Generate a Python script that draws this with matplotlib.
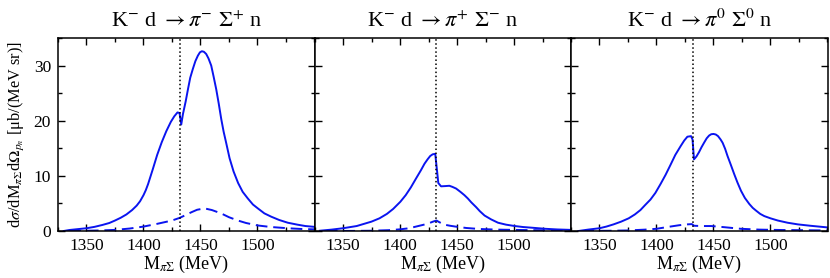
import matplotlib
matplotlib.use('Agg')
import matplotlib.pyplot as plt
from matplotlib.ticker import MultipleLocator

plt.rcParams['font.family'] = ['Liberation Serif', 'DejaVu Serif']
plt.rcParams['mathtext.fontset'] = 'stix'

# values (MeV, mub/(MeV sr))
m1_solid = [1330, 1335, 1342, 1350, 1357, 1364, 1370, 1375, 1380, 1385, 1390, 1394, 1397, 1400,
            1402, 1404, 1406, 1408, 1412, 1416, 1420, 1424, 1427, 1429.8, 1431.6, 1433.1, 1434.6,
            1437, 1439, 1441, 1443.3, 1445.5, 1447.7, 1449.5, 1451.2, 1453, 1455, 1457, 1459.4,
            1461.5, 1463.8, 1466, 1468.2, 1470.3, 1472.5, 1475.5, 1479, 1483, 1487, 1491.5, 1496,
            1500.3, 1506, 1512, 1519, 1526.6, 1535, 1542, 1550]
v1_solid = [0.0, 0.18, 0.33, 0.5, 0.75, 1.1, 1.45, 1.9, 2.4, 3.0, 3.8, 4.6, 5.4, 6.5,
            7.4, 8.5, 9.8, 11.1, 13.8, 16.1, 18.1, 19.8, 20.8, 21.5, 21.4, 19.3, 21.2,
            23.5, 25.7, 27.8, 29.4, 30.8, 31.8, 32.4, 32.6, 32.5, 32.1, 31.3, 30.0,
            28.0, 25.7, 23.1, 20.3, 18.0, 16.0, 13.2, 10.8, 8.7, 7.1, 5.9, 4.8,
            4.1, 3.2, 2.6, 2.0, 1.5, 1.15, 0.9, 0.75]
m1_dash = [1335, 1350, 1362, 1375, 1388, 1400, 1412, 1425, 1432, 1437, 1442, 1447, 1453.5,
           1460, 1468, 1475, 1482.8, 1490, 1500.3, 1512, 1526.6, 1540, 1550]
v1_dash = [0.0, 0.05, 0.1, 0.2, 0.45, 0.8, 1.3, 1.9, 2.4, 2.9, 3.4, 3.85, 4.1,
           3.8, 3.2, 2.5, 1.9, 1.45, 1.0, 0.72, 0.5, 0.35, 0.3]

m2_solid = [1329.7, 1340, 1350, 1362, 1375, 1382, 1388.5, 1394, 1400.3, 1405, 1409.5, 1414,
            1418.3, 1421.5, 1424.2, 1426.5, 1428.6, 1430.9, 1432.4, 1433.6, 1436, 1440, 1443.3,
            1446, 1449.2, 1453, 1456.5, 1459.5, 1462.5, 1466.9, 1470, 1474.2, 1480, 1486, 1493,
            1500.7, 1508, 1515.5, 1527.3, 1538, 1550]
v2_solid = [0.05, 0.25, 0.5, 0.9, 1.7, 2.3, 3.1, 4.0, 5.3, 6.5, 7.9, 9.5,
            11.0, 12.2, 13.0, 13.6, 13.9, 14.0, 11.1, 8.7, 8.1, 8.15, 8.2,
            8.0, 7.7, 7.1, 6.5, 5.9, 5.2, 4.3, 3.6, 2.8, 2.1, 1.5, 1.15,
            0.9, 0.72, 0.6, 0.4, 0.28, 0.2]
m2_dash = [1335, 1360, 1375, 1390, 1400, 1406, 1412, 1418, 1424, 1429, 1432, 1434, 1438.9,
           1444, 1448.7, 1458, 1469.3, 1485, 1500, 1525, 1550]
v2_dash = [0.0, 0.02, 0.05, 0.15, 0.3, 0.45, 0.7, 1.0, 1.3, 1.7, 1.9, 1.65, 1.15,
           0.95, 0.8, 0.55, 0.37, 0.25, 0.2, 0.13, 0.1]

m3_solid = [1331.5, 1340, 1350, 1356, 1362.3, 1369, 1375.6, 1381, 1385.9, 1390, 1394.7, 1399,
            1403.5, 1408, 1412.3, 1416.5, 1421.2, 1424.3, 1427.1, 1430.3, 1431.6, 1432.9, 1435,
            1437.3, 1439.5, 1441.7, 1444, 1446.1, 1448, 1450, 1452, 1454, 1456.2, 1458, 1460.2,
            1462.3, 1465.2, 1468.2, 1471, 1474.1, 1477.5, 1481.4, 1484.4, 1487.3, 1491, 1494.6,
            1500, 1506.4, 1515, 1524, 1535, 1547.5, 1550]
v3_solid = [0.0, 0.25, 0.5, 0.8, 1.2, 1.7, 2.3, 3.0, 3.8, 4.7, 5.7, 6.9,
            8.5, 10.2, 12.0, 13.8, 15.4, 16.4, 17.1, 17.2, 16.6, 13.0, 13.5,
            14.3, 15.2, 16.0, 16.8, 17.3, 17.55, 17.6, 17.5, 17.2, 16.6, 16.0, 14.9,
            13.6, 12.0, 10.3, 8.8, 7.3, 6.0, 4.9, 4.2, 3.7, 3.1, 2.7,
            2.3, 1.9, 1.5, 1.2, 0.95, 0.7, 0.65]
m3_dash = [1335, 1360, 1375, 1390, 1400, 1412, 1420, 1427, 1431, 1433, 1440, 1448, 1459,
           1474, 1490, 1510, 1550]
v3_dash = [0.0, 0.05, 0.1, 0.25, 0.4, 0.8, 1.05, 1.2, 1.25, 0.95, 0.9, 0.9, 0.7,
           0.4, 0.25, 0.18, 0.1]

threshold = 1432
titles = [r'K$^{-}$ d $\rightarrow\pi^{-}\ \Sigma^{+}$ n',
          r'K$^{-}$ d $\rightarrow\pi^{+}\ \Sigma^{-}$ n',
          r'K$^{-}$ d $\rightarrow\pi^{0}\ \Sigma^{0}$ n']

solids = [(m1_solid, v1_solid), (m2_solid, v2_solid), (m3_solid, v3_solid)]
dashes = [(m1_dash, v1_dash), (m2_dash, v2_dash), (m3_dash, v3_dash)]

fig = plt.figure(figsize=(8.3, 2.78), dpi=100)
W, H = 830.0, 278.0
lefts = [58, 314.5, 571]
pw = 256.5
for i in range(3):
    ax = fig.add_axes([lefts[i] / W, 1 - 231 / H, pw / W, 193 / H])
    ax.plot(*solids[i], color='#0a14f0', lw=1.4)
    ax.plot(*dashes[i], color='#0a14f0', lw=1.4, ls=(0, (6, 3)))
    ax.axvline(threshold, color='black', ls=':', lw=1.1)
    ax.set_xlim(1325, 1550)
    ax.set_ylim(0, 35)
    ax.xaxis.set_major_locator(MultipleLocator(50))
    ax.xaxis.set_minor_locator(MultipleLocator(25))
    ax.yaxis.set_major_locator(MultipleLocator(10))
    ax.yaxis.set_minor_locator(MultipleLocator(5))
    ax.set_xticks([1350, 1400, 1450, 1500])
    for s in ax.spines.values():
        s.set_linewidth(1.1)
    ax.tick_params(which='both', direction='in', top=True, right=True, labelsize=12.5, width=1.0)
    ax.tick_params(which='major', length=5, pad=5)
    ax.tick_params(which='minor', length=3)
    if i > 0:
        ax.set_yticklabels([])
    ax.set_title(titles[i], fontsize=16, pad=8)
    ax.set_xlabel(r'M$_{\pi\Sigma}$ (MeV)', fontsize=13, labelpad=0)
    if i == 0:
        ax.set_ylabel(r'd$\sigma$/dM$_{\pi\Sigma}$d$\Omega_{p_n}$ [μb/(MeV sr)]',
                      fontsize=11.8, labelpad=5)

fig.savefig('out.png', dpi=100)
